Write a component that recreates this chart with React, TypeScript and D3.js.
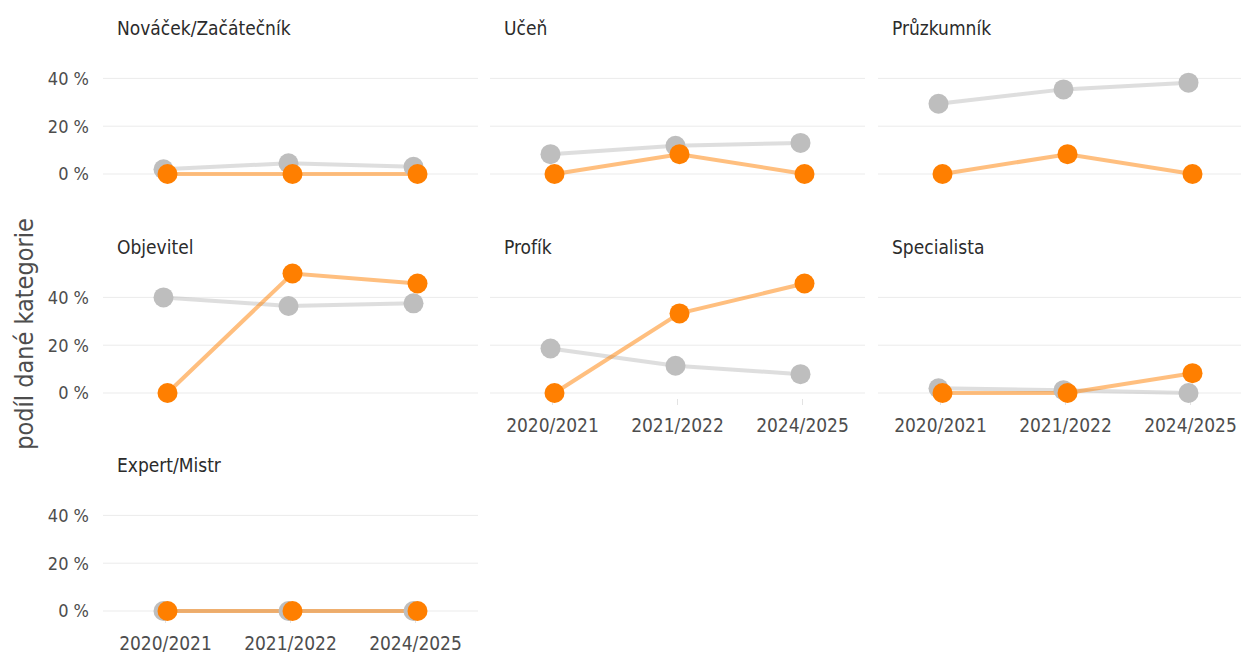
import React, { useEffect, useRef } from "react";
import * as d3 from "d3";

// school years on the x axis
const years = ["2020/2021", "2021/2022", "2024/2025"];
// facet order, left to right, top to bottom
const categories = [
  "Nováček/Začátečník",
  "Učeň",
  "Průzkumník",
  "Objevitel",
  "Profík",
  "Specialista",
  "Expert/Mistr",
];
// share of each category (%), grey series = all, orange series = highlighted group
const greyValues = [
  [2, 4.5, 3],
  [8.3, 11.8, 13],
  [29.4, 35.4, 38.2],
  [40, 36.4, 37.5],
  [18.6, 11.4, 7.9],
  [2, 1.2, 0],
  [0, 0, 0],
];
const orangeValues = [
  [0, 0, 0],
  [0, 8.3, 0],
  [0, 8.3, 0],
  [0, 50, 45.8],
  [0, 33.3, 45.8],
  [0, 0, 8.3],
  [0, 0, 0],
];
const yTicks = [0, 20, 40];
const yTitle = "podíl dané kategorie";

const FONT = "'Ubuntu Condensed', 'Liberation Sans Narrow', 'DejaVu Sans Condensed', 'Roboto Condensed', 'Open Sans Condensed', sans-serif";

export default function App() {
  const svgRef = useRef<SVGSVGElement | null>(null);
  const width = 1241;
  const height = 654;

  useEffect(() => {
    if (!svgRef.current) return;
    const svg = d3.select(svgRef.current);
    svg.selectAll("*").remove();

    const colLefts = [103, 490, 878];
    const panelW = 375;
    const rowTops = [48.5, 267.5, 485.5];
    const panelH = 131.5;
    const dodge = 2;

    // lines are half transparent, points opaque
    const series = [
      { values: greyValues, color: "#bebebe", off: -dodge },
      { values: orangeValues, color: "#ff7f00", off: dodge },
    ];

    categories.forEach((cat, i) => {
      const col = i % 3;
      const row = Math.floor(i / 3);
      const left = colLefts[col];
      const top = rowTops[row];
      const x = d3.scalePoint<string>().domain(years).range([left, left + panelW]).padding(0.5);
      const y = d3.scaleLinear().domain([-2.5, 52.5]).range([top + panelH, top]);
      const g = svg.append("g").attr("class", "panel");

      // gridlines
      g.selectAll(".grid")
        .data(yTicks)
        .join("line")
        .attr("x1", left)
        .attr("x2", left + panelW)
        .attr("y1", d => y(d))
        .attr("y2", d => y(d))
        .attr("stroke", "#ebebeb")
        .attr("stroke-width", 1);

      // strip title
      g.append("text")
        .attr("x", left + 14)
        .attr("y", top - 14)
        .attr("font-family", FONT)
        .attr("font-size", 19)
        .attr("fill", "#2b2b2b")
        .text(cat);

      // y tick labels only first column
      if (col === 0) {
        g.selectAll(".ytick")
          .data(yTicks)
          .join("text")
          .attr("x", 89)
          .attr("y", d => y(d))
          .attr("dy", "0.35em")
          .attr("text-anchor", "end")
          .attr("font-family", FONT)
          .attr("font-size", 18)
          .attr("fill", "#4d4d4d")
          .text(d => `${d} %`);
      }

      // x axis on bottom panels
      const isBottom = i >= categories.length - 3;
      if (isBottom) {
        g.selectAll(".xtick")
          .data(years)
          .join("line")
          .attr("x1", d => x(d)!)
          .attr("x2", d => x(d)!)
          .attr("y1", top + panelH)
          .attr("y2", top + panelH + 6)
          .attr("stroke", "#e3e3e3")
          .attr("stroke-width", 1);
        g.selectAll(".xlabel")
          .data(years)
          .join("text")
          .attr("x", d => x(d)!)
          .attr("y", top + panelH + 33)
          .attr("text-anchor", "middle")
          .attr("font-family", FONT)
          .attr("font-size", 19)
          .attr("fill", "#4d4d4d")
          .text(d => d);
      }

      const line = d3
        .line<number>()
        .x((_, j) => x(years[j])!)
        .y(d => y(d));

      series.forEach(s => {
        g.append("path")
          .datum(s.values[i])
          .attr("fill", "none")
          .attr("stroke", s.color)
          .attr("stroke-opacity", 0.5)
          .attr("stroke-width", 4)
          .attr("transform", `translate(${s.off},0)`)
          .attr("d", line);
      });
      series.forEach(s => {
        g.selectAll(null)
          .data(s.values[i])
          .join("circle")
          .attr("cx", (_, j) => x(years[j])! + s.off)
          .attr("cy", d => y(d))
          .attr("r", 10)
          .attr("fill", s.color);
      });
    });

    // y axis title
    svg.append("text")
      .attr("transform", `translate(33,334) rotate(-90)`)
      .attr("text-anchor", "middle")
      .attr("font-family", FONT)
      .attr("font-size", 25)
      .attr("fill", "#4d4d4d")
      .text(yTitle);
  }, []);

  return (
    <svg
      ref={svgRef}
      width={width}
      height={height}
      style={{ position: "absolute", left: 0, top: 0, background: "#ffffff" }}
    />
  );
}
